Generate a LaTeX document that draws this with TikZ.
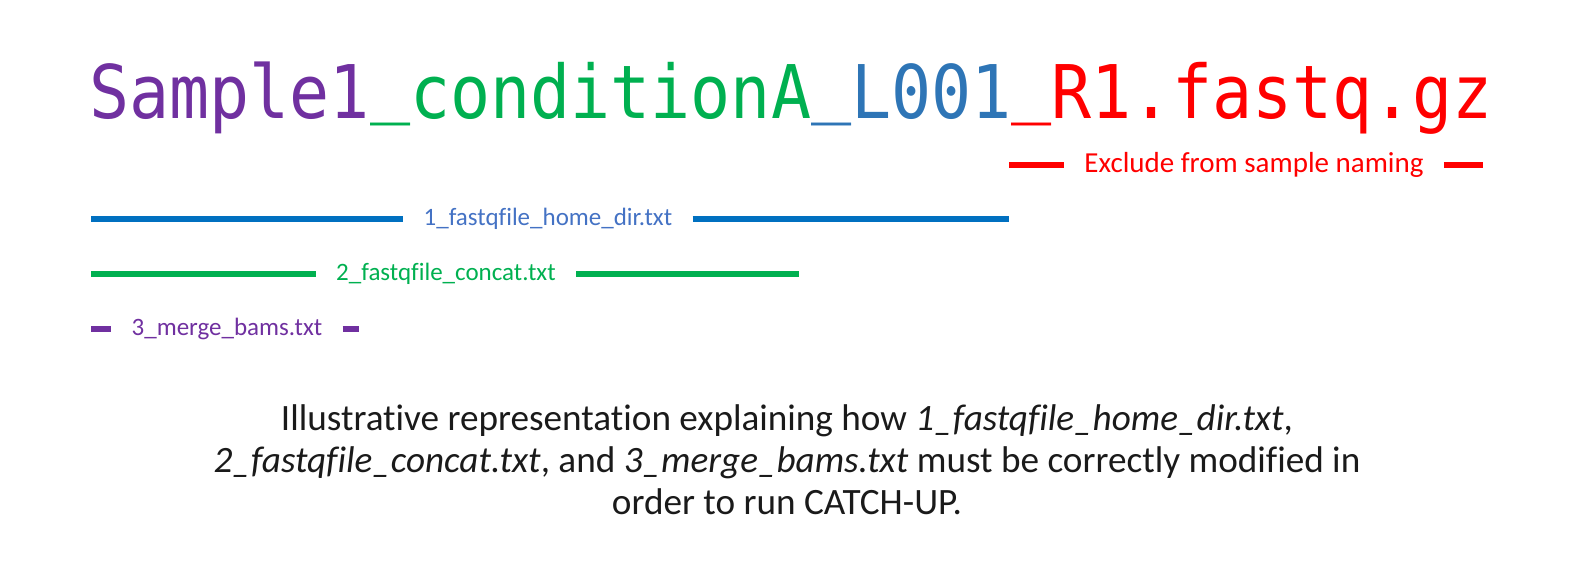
\documentclass[tikz,border=0pt]{standalone}
\usepackage{fontspec}
\setmainfont{Carlito}[Ligatures=NoCommon]
\newfontfamily\namefont[FakeStretch=0.9]{DejaVu Sans Mono}
\usetikzlibrary{positioning}

\definecolor{smpurple}{HTML}{7030A0}
\definecolor{smgreen}{HTML}{00B050}
\definecolor{smblue}{HTML}{2E75B6}
\definecolor{lnblue}{HTML}{0070C0}
\definecolor{txblue}{HTML}{4472C4}
\definecolor{smred}{HTML}{FF0000}
\definecolor{captext}{HTML}{1A1A1A}

\newcommand{\usc}{\raisebox{5pt}{\_}}

\begin{document}
\begin{tikzpicture}[
        x=0.5pt, y=-0.5pt,
        filename/.style={inner sep=0pt, anchor=base west, font=\namefont\fontsize{37pt}{40pt}\selectfont},
        span/.style={inner xsep=10pt, inner ysep=0pt, font=\fontsize{12.5pt}{14pt}\selectfont},
        bar/.style={line width=2.6pt},
        caption/.style={align=center, text=captext, font=\fontsize{18.6pt}{21pt}\selectfont}
    ]
        \useasboundingbox (0,0) rectangle (1582,584);

        \node[filename] (fname) at (89,118) {%
            \textcolor{smpurple}{Sample1}%
            \textcolor{smgreen}{\usc conditionA}%
            \textcolor{smblue}{\usc L001}%
            \textcolor{smred}{\usc R1.fastq.gz}};

        % excluded part
        \node[span, text=smred, font=\fontsize{14.5pt}{16pt}\selectfont] (excl) at (1254,165) {Exclude from sample naming};
        \coordinate (exclL) at (1009,165);
        \coordinate (exclR) at (1483,165);
        \draw[bar, smred] (exclL) -- (excl.west);
        \draw[bar, smred] (excl.east) -- (exclR);

        % home dir
        \node[span, text=txblue] (home) at (548,219) {1\_fastqfile\_home\_dir.txt};
        \coordinate (homeL) at (91,219);
        \coordinate (homeR) at (1009,219);
        \draw[bar, lnblue] (homeL) -- (home.west);
        \draw[bar, lnblue] (home.east) -- (homeR);

        % concat
        \node[span, text=smgreen] (concat) at (446,274) {2\_fastqfile\_concat.txt};
        \coordinate (concatL) at (91,274);
        \coordinate (concatR) at (799,274);
        \draw[bar, smgreen] (concatL) -- (concat.west);
        \draw[bar, smgreen] (concat.east) -- (concatR);

        % merge bams
        \node[span, text=smpurple] (merge) at (227,329) {3\_merge\_bams.txt};
        \coordinate (mergeL) at (91,329);
        \coordinate (mergeR) at (359,329);
        \draw[bar, smpurple] (mergeL) -- (merge.west);
        \draw[bar, smpurple] (merge.east) -- (mergeR);

        \node[caption] (note) at (787,460) {Illustrative representation explaining how \textit{1\_fastqfile\_home\_dir.txt},\\
            \textit{2\_fastqfile\_concat.txt}, and \textit{3\_merge\_bams.txt} must be correctly modified in\\
            order to run CATCH-UP.};
    \end{tikzpicture}
\end{document}
